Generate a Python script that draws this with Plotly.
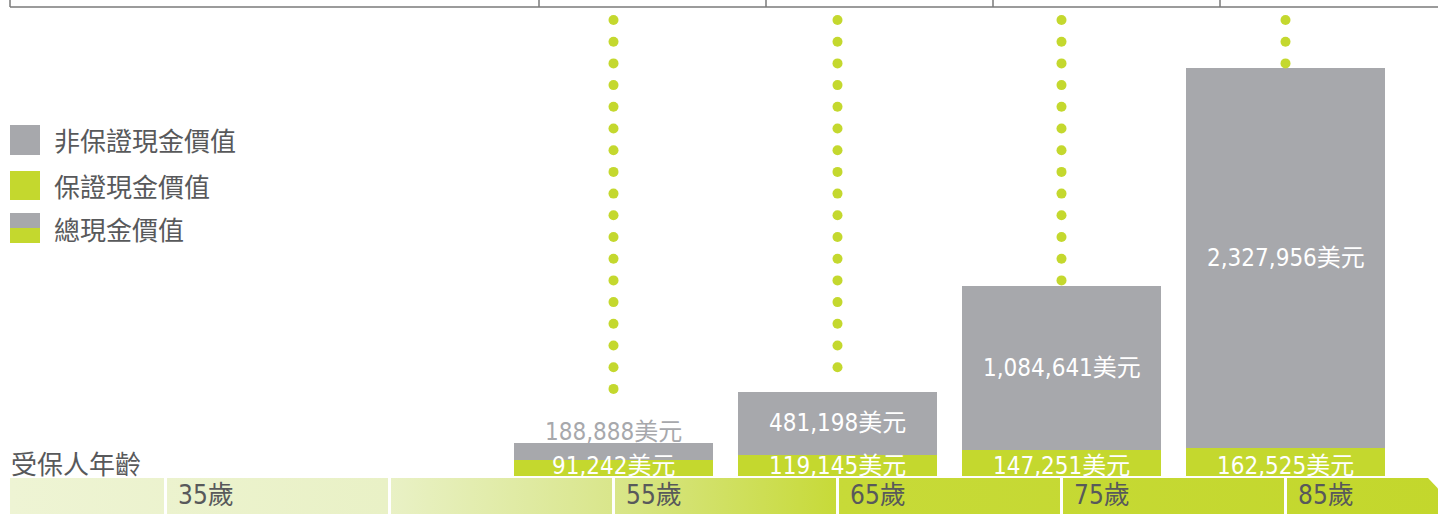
import numpy as np
import plotly.graph_objects as go

# ---------------- data ----------------
ages = [55, 65, 75, 85]
guaranteed = [91242, 119145, 147251, 162525]
total = [188888, 481198, 1084641, 2327956]
age_ticks = [35, 45, 55, 65, 75, 85]
age_labels = {35: "35歲", 55: "55歲", 65: "65歲", 75: "75歲", 85: "85歲"}
legend_items = ["非保證現金價值", "保證現金價值", "總現金價值"]
axis_title = "受保人年齡"
unit = "美元"

# ---------------- styles ----------------
W, H = 1438, 514
GRAY = "#a7a8ac"
GREEN = "#c4d82e"
TXT = "#58595b"
CJK = "Noto Sans CJK TC, Noto Sans CJK SC, sans-serif"
NUM = "DejaVu Sans Condensed, Liberation Sans Narrow, Noto Sans CJK TC, sans-serif"

# pixel <-> data mapping (layout choice)
base_px, top_px = 476, 68
dpp = max(total) / (base_px - top_px)          # dollars per pixel
y_max = base_px * dpp
y_min = -(H - base_px) * dpp
px_per_year = 22.4
age_ref, age_ref_px = 55, 613.5
x_min = age_ref - age_ref_px / px_per_year
x_max = age_ref + (W - age_ref_px) / px_per_year


def py2y(p):
    return (base_px - p) * dpp


def px2x(p):
    return age_ref + (p - age_ref_px) / px_per_year


def y2py(v):
    return base_px - v / dpp


nonguar = [t - g for t, g in zip(total, guaranteed)]

fig = go.Figure()

# age band with gradient (decoration)
band_x = [px2x(10), px2x(1428), px2x(1462), px2x(1428), px2x(10), px2x(10)]
band_y = [py2y(478), py2y(478), py2y(514), py2y(550), py2y(550), py2y(478)]
fig.add_trace(go.Scatter(
    x=band_x, y=band_y, fill="toself", mode="lines", line=dict(width=0, color=GREEN),
    fillgradient=dict(type="horizontal", colorscale=[
        [0.0, "#eef4d4"], [0.26, "#e9f1c6"], [0.415, "#d9e68b"],
        [0.57, "#c7da38"], [1.0, "#c3d72c"]]),
    hoverinfo="skip", showlegend=False))

# stacked bars
fig.add_trace(go.Bar(x=ages, y=guaranteed, marker=dict(color=GREEN, line=dict(width=0)),
                     width=199 / px_per_year, showlegend=False, hoverinfo="skip"))
fig.add_trace(go.Bar(x=ages, y=nonguar, base=guaranteed, marker=dict(color=GRAY, line=dict(width=0)),
                     width=199 / px_per_year, showlegend=False, hoverinfo="skip"))

# dotted leader lines above each bar
dot_x, dot_y = [], []
for i, (a, t) in enumerate(zip(ages, total)):
    limit = y2py(t) - 4.5 - (32 if i == 0 else 0)
    p = 20.0
    while p < limit:
        dot_x.append(a)
        dot_y.append(py2y(p))
        p += 21.7
fig.add_trace(go.Scatter(x=dot_x, y=dot_y, mode="markers",
                         marker=dict(size=10, color=GREEN, line=dict(width=0)),
                         showlegend=False, hoverinfo="skip"))

shapes = []
# separators in the age band
for a in age_ticks:
    shapes.append(dict(type="line", xref="x", yref="paper", x0=a, x1=a,
                       y0=1 - 478 / H, y1=0, line=dict(color="white", width=3)))


def pxs(x):
    return x / W


def pys(y):
    return 1 - y / H


# top frame line
shapes.append(dict(type="line", xref="paper", yref="paper", x0=pxs(10), x1=1,
                   y0=pys(7), y1=pys(7), line=dict(color="#7a7a7a", width=1.5)))
for xp in [10, 539, 766, 993, 1220]:
    shapes.append(dict(type="line", xref="paper", yref="paper", x0=pxs(xp), x1=pxs(xp),
                       y0=pys(0), y1=pys(7), line=dict(color="#7a7a7a", width=1.5)))

# legend swatches
sw = [(125, 155, GRAY), (171, 200, GREEN), (213, 228, GRAY), (228, 243, GREEN)]
for y0, y1, c in sw:
    shapes.append(dict(type="rect", xref="paper", yref="paper", x0=pxs(10), x1=pxs(40),
                       y0=pys(y1), y1=pys(y0), fillcolor=c, line=dict(width=0)))

annotations = []
for txt, yc in zip(legend_items, [140, 185, 229]):
    annotations.append(dict(text=txt, xref="paper", yref="paper", x=pxs(52), y=pys(yc),
                            xanchor="left", yanchor="middle", showarrow=False,
                            font=dict(family=CJK, size=26, color=TXT)))
annotations.append(dict(text=axis_title, xref="paper", yref="paper", x=pxs(9), y=pys(462),
                        xanchor="left", yanchor="middle", showarrow=False,
                        font=dict(family=CJK, size=26, color=TXT)))

# value labels
for i, (a, g, t) in enumerate(zip(ages, guaranteed, total)):
    annotations.append(dict(text=f"{g:,}{unit}", x=a, y=0, xref="x", yref="y",
                            xanchor="center", yanchor="bottom", yshift=-6, showarrow=False,
                            font=dict(family=NUM, size=24, color="white")))
    if i == 0:
        annotations.append(dict(text=f"{t:,}{unit}", x=a, y=t, xref="x", yref="y",
                                xanchor="center", yanchor="bottom", yshift=-5, showarrow=False,
                                font=dict(family=NUM, size=24, color=GRAY)))
    else:
        annotations.append(dict(text=f"{t:,}{unit}", x=a, y=(g + t) / 2, xref="x", yref="y",
                                xanchor="center", yanchor="middle", showarrow=False,
                                font=dict(family=NUM, size=24, color="white")))

# age labels
for a, lab in age_labels.items():
    annotations.append(dict(text=lab, x=a, y=pys(495), xref="x", yref="paper",
                            xanchor="left", yanchor="middle", xshift=10, showarrow=False,
                            font=dict(family=NUM, size=26, color=TXT)))

fig.update_layout(
    width=W, height=H, margin=dict(l=0, r=0, t=0, b=0),
    paper_bgcolor="white", plot_bgcolor="white",
    barmode="overlay", bargap=0,
    xaxis=dict(range=[x_min, x_max], visible=False, fixedrange=True),
    yaxis=dict(range=[y_min, y_max], visible=False, fixedrange=True),
    shapes=shapes, annotations=annotations, showlegend=False,
)

fig.write_html("out.html", config={"displayModeBar": False},
               post_script="document.body.style.margin='0px';document.body.style.overflow='hidden';")
